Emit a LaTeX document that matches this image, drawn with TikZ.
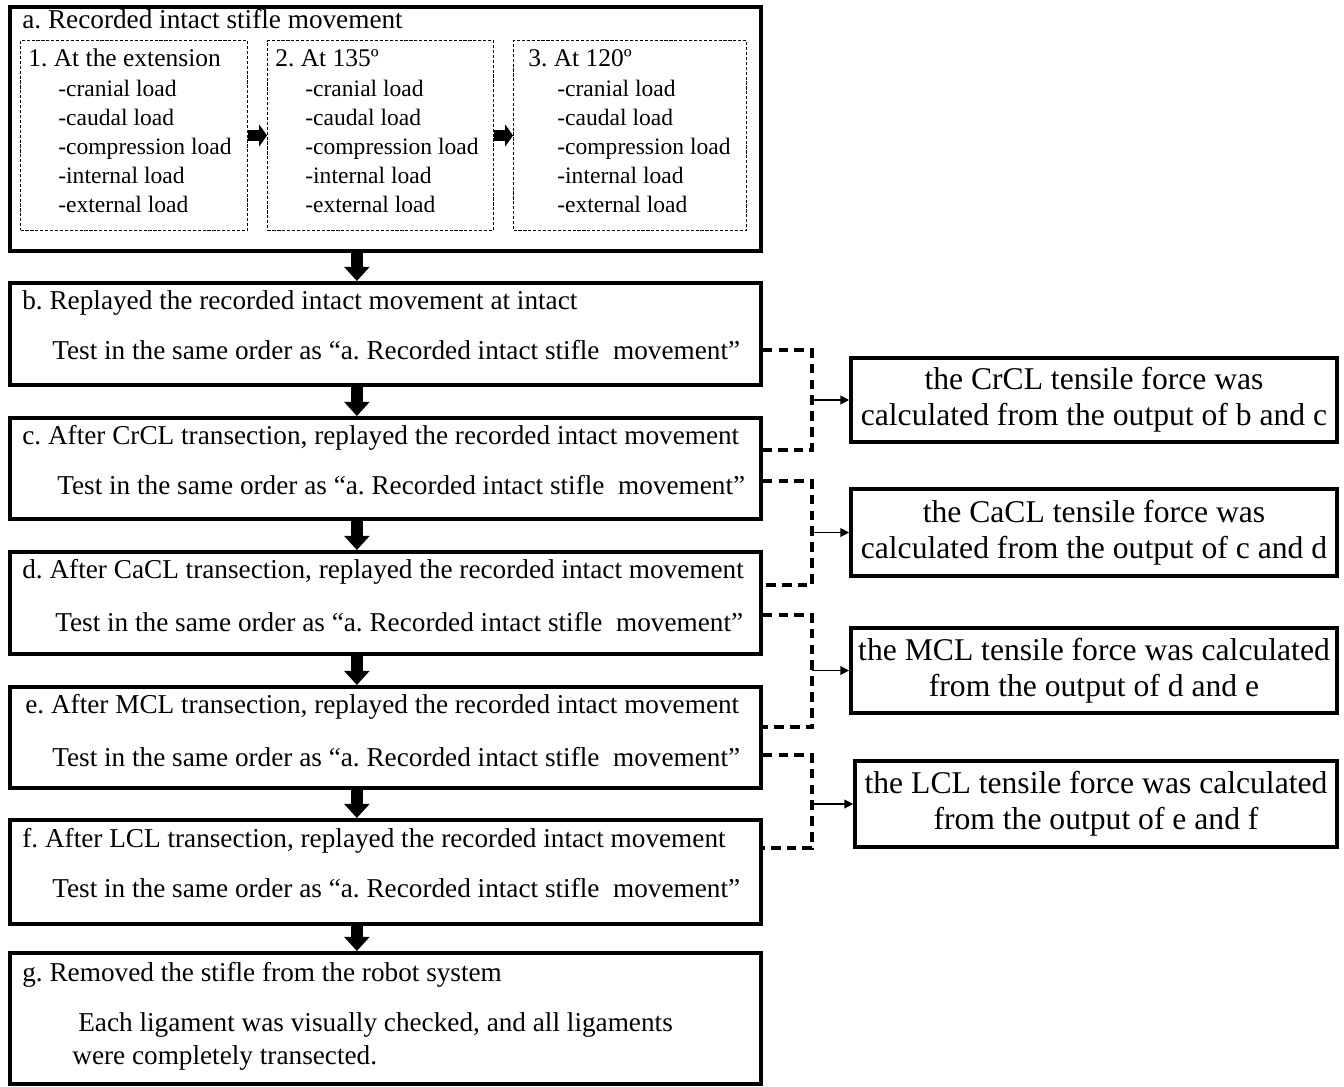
\documentclass[tikz,border=0pt]{standalone}
\usepackage{fontspec}
\setmainfont{Liberation Serif}
\frenchspacing
\usetikzlibrary{arrows.meta,positioning,calc}

\tikzset{
  stage/.style={draw, line width=2.2pt, minimum width=15.02cm, inner sep=0pt, anchor=north west},
  sub/.style={draw, line width=0.6pt, dash pattern=on 1.8pt off 1pt, minimum height=3.8cm, inner sep=0pt, anchor=north west},
  side/.style={draw, line width=2.2pt, minimum width=9.72cm, inner sep=0pt, align=center, font=\fontsize{18}{20.5}\selectfont},
  txt/.style={anchor=west, inner sep=0pt, text height=11pt, text depth=3.4pt, font=\fontsize{15.5}{18}\selectfont},
  ttl/.style={anchor=west, inner sep=0pt, text height=10.2pt, text depth=3.2pt, font=\fontsize{14.5}{17}\selectfont},
  ld/.style={anchor=west, inner sep=0pt, text height=9.4pt, text depth=2.9pt, font=\fontsize{13.4}{16}\selectfont},
  blk/.style={line width=6.8pt, -{Triangle[length=8pt,width=14pt]}},
  blkh/.style={line width=6.5pt, -{Triangle[length=4.5pt,width=12.5pt]}},
  dlink/.style={line width=2pt, dash pattern=on 5.5pt off 3.5pt},
  toside/.style={line width=0.8pt, -{Triangle[length=5pt,width=5pt]}},
}

\begin{document}
\begin{tikzpicture}[x=0.02cm, y=-0.02cm]
\path[use as bounding box, fill=white] (0,0) rectangle (1344,1086);

% a. recorded movement
\node[stage, minimum height=4.88cm] (a) at (8,5) {};
\node[txt] (atitle) at (22,22) {a. Recorded intact stifle movement};
\node[sub, minimum width=4.54cm] (sub1) at (20,40) {};
\node[sub, minimum width=4.52cm] (sub2) at (267,40) {};
\node[sub, minimum width=4.66cm] (sub3) at (513,40) {};
\node[ttl] (t1) at (28,60) {1. At the extension};
\node[ttl] (t2) at (275,60) {2. At 135º};
\node[ttl] (t3) at (528,60) {3. At 120º};
\foreach \k/\lx in {1/58,2/305,3/557}
  \foreach \t [count=\i] in {cranial,caudal,compression,internal,external}
    \node[ld] (ld\k\i) at (\lx,62+29*\i) {-\t\ load};
\draw[blkh] (sub1) -- (sub2);
\draw[blkh] (sub2) -- (sub3);

% b - g
\node[stage, minimum height=2.04cm] (b) at (8,281) {};
\node[txt] (btitle) at (22,303) {b. Replayed the recorded intact movement at intact};
\node[txt] (btest) at (52,353) {Test in the same order as “a. Recorded intact stifle~ movement”};

\node[stage, minimum height=2.02cm] (c) at (8,416) {};
\node[txt] (ctitle) at (22,438) {c. After CrCL transection, replayed the recorded intact movement};
\node[txt] (ctest) at (57,488) {Test in the same order as “a. Recorded intact stifle~ movement”};

\node[stage, minimum height=2.04cm] (d) at (8,550) {};
\node[txt] (dtitle) at (22,572) {d. After CaCL transection, replayed the recorded intact movement};
\node[txt] (dtest) at (55,625) {Test in the same order as “a. Recorded intact stifle~ movement”};

\node[stage, minimum height=2.02cm] (e) at (8,685) {};
\node[txt] (etitle) at (25,707) {e. After MCL transection, replayed the recorded intact movement};
\node[txt] (etest) at (52,760) {Test in the same order as “a. Recorded intact stifle~ movement”};

\node[stage, minimum height=2.08cm] (f) at (8,818) {};
\node[txt] (ftitle) at (22,841) {f. After LCL transection, replayed the recorded intact movement};
\node[txt] (ftest) at (52,891) {Test in the same order as “a. Recorded intact stifle~ movement”};

\node[stage, minimum height=2.62cm] (g) at (8,951) {};
\node[txt] (gtitle) at (22,975) {g. Removed the stifle from the robot system};
\node[txt] (gline1) at (78,1025) {Each ligament was visually checked, and all ligaments};
\node[txt] (gline2) at (72,1058) {were completely transected.};

% flow arrows
\draw[blk] ([xshift=-0.57cm]a.south) -- ([xshift=-0.57cm]b.north);
\draw[blk] ([xshift=-0.57cm]b.south) -- ([xshift=-0.57cm]c.north);
\draw[blk] ([xshift=-0.57cm]c.south) -- ([xshift=-0.57cm]d.north);
\draw[blk] ([xshift=-0.57cm]d.south) -- ([xshift=-0.57cm]e.north);
\draw[blk] ([xshift=-0.57cm]e.south) -- ([xshift=-0.57cm]f.north);
\draw[blk] ([xshift=-0.57cm]f.south) -- ([xshift=-0.57cm]g.north);

% tensile force boxes
\node[side, minimum height=1.68cm] (rcr) at (1094,400) {the CrCL tensile force was\\calculated from the output of b and c};
\node[side, minimum height=1.74cm] (rca) at (1094,532.5) {the CaCL tensile force was\\calculated from the output of c and d};
\node[side, minimum height=1.70cm] (rm) at (1094,670.5) {the MCL tensile force was calculated\\from the output of d and e};
\node[side, minimum height=1.72cm, minimum width=9.64cm] (rl) at (1096,804) {the LCL tensile force was calculated\\from the output of e and f};

\coordinate (jbc) at (812,400);
\coordinate (jcd) at (812,532.5);
\coordinate (jde) at (812,670.5);
\coordinate (jef) at (812,804);

\draw[dlink] ($(b.south east)+(0,-37)$) -| (jbc) |- ($(c.north east)+(0,34)$);
\draw[dlink] ($(c.south east)+(0,-40)$) -| (jcd) |- ($(d.north east)+(0,35)$);
\draw[dlink] ($(d.south east)+(0,-41)$) -| (jde) |- ($(e.north east)+(0,42)$);
\draw[dlink] ($(e.south east)+(0,-35)$) -| (jef) |- ($(f.north east)+(0,30)$);

\draw[toside] (jbc) -- (rcr);
\draw[toside] (jcd) -- (rca);
\draw[toside] (jde) -- (rm);
\draw[toside] (jef) -- (rl);
\end{tikzpicture}
\end{document}
